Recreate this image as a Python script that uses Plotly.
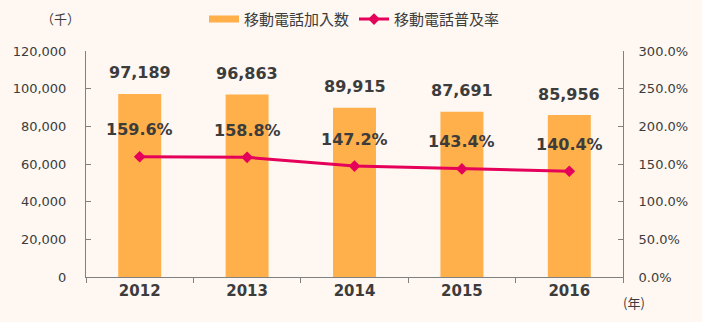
import plotly.graph_objects as go

years = ["2012", "2013", "2014", "2015", "2016"]
subscribers = [97189, 96863, 89915, 87691, 85956]
penetration = [159.6, 158.8, 147.2, 143.4, 140.4]

y_ticks = [0, 20000, 40000, 60000, 80000, 100000, 120000]
y2_ticks = [0, 50, 100, 150, 200, 250, 300]

BG = "#FEF7F2"
BAR = "#FFB04A"
LINE = "#E5005A"
TXT = "#3C3C3C"
AXIS = "#808080"
NUM_FONT = "DejaVu Sans"
JP_FONT = "Noto Sans CJK JP"

fig = go.Figure()

fig.add_trace(go.Bar(
    x=years, y=subscribers, name="移動電話加入数",
    marker=dict(color=BAR, line=dict(width=0)),
    width=0.4, showlegend=False, legendgroup="bar",
))
# legend key for the bars: a wide flat swatch
fig.add_trace(go.Scatter(
    x=[None], y=[None], name="移動電話加入数", mode="lines",
    line=dict(color=BAR, width=7), legendgroup="bar",
))

fig.add_trace(go.Scatter(
    x=years, y=penetration, name="移動電話普及率", yaxis="y2",
    mode="lines+markers",
    line=dict(color=LINE, width=3),
    marker=dict(symbol="diamond", size=9, color=LINE),
))

# value labels above bars and above line points (x given as category index)
for i, v in enumerate(subscribers):
    fig.add_annotation(x=i, y=v, xref="x", yref="y", text=f"{v:,}", showarrow=False,
                       yshift=21, font=dict(family=NUM_FONT, size=16, color=TXT, weight="bold"))
for i, p in enumerate(penetration):
    fig.add_annotation(x=i, y=p, xref="x", yref="y2", text=f"{p:.1f}%", showarrow=False,
                       yshift=27, font=dict(family=NUM_FONT, size=16, color=TXT, weight="bold"))

fig.add_annotation(xref="paper", yref="paper", x=-0.048, y=1.145, text="（千）",
                   showarrow=False, xanchor="center", yanchor="middle",
                   font=dict(family=JP_FONT, size=13, color=TXT))
fig.add_annotation(xref="paper", yref="paper", x=1.0, y=-0.115, text="(年)",
                   showarrow=False, xanchor="left", yanchor="middle", xshift=-2,
                   font=dict(family=JP_FONT, size=13, color=TXT))

fig.update_layout(
    width=702, height=322,
    margin=dict(l=86, r=79, t=51, b=45, autoexpand=False),
    paper_bgcolor=BG, plot_bgcolor=BG,
    showlegend=True,
    legend=dict(orientation="h", x=0.5, xanchor="center", y=1.14, yanchor="middle",
                font=dict(family=JP_FONT, size=15, color=TXT), bgcolor="rgba(0,0,0,0)",
                traceorder="normal", itemwidth=30),
    xaxis=dict(
        type="category", range=[-0.5, 4.5],
        showline=True, linecolor=AXIS, linewidth=1,
        ticks="outside", tickson="boundaries", ticklen=5, tickcolor=AXIS,
        showgrid=False, zeroline=False,
        tickfont=dict(family=NUM_FONT, size=15, color=TXT, weight="bold"),
        tickangle=0,
    ),
    yaxis=dict(
        range=[0, 120000], tickvals=y_ticks,
        ticktext=[f"{t:,}" for t in y_ticks],
        showline=True, linecolor=AXIS, linewidth=1,
        ticks="inside", ticklen=5, tickcolor=AXIS,
        showgrid=False, zeroline=False,
        tickfont=dict(family=NUM_FONT, size=13, color=TXT),
        ticklabelstandoff=16,
    ),
    yaxis2=dict(
        range=[0, 300], tickvals=y2_ticks,
        ticktext=[f"{t:.1f}%" for t in y2_ticks],
        overlaying="y", side="right",
        showline=True, linecolor=AXIS, linewidth=1,
        ticks="inside", ticklen=5, tickcolor=AXIS,
        showgrid=False, zeroline=False,
        tickfont=dict(family=NUM_FONT, size=13, color=TXT),
        ticklabelstandoff=12,
    ),
)

fig.write_html("out.html")
